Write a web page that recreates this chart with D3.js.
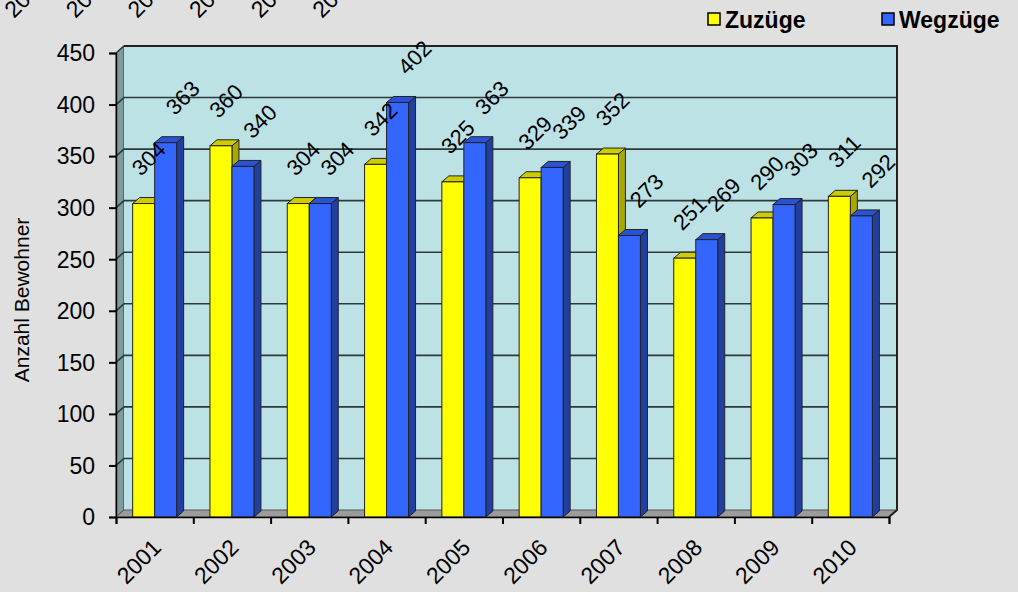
<!DOCTYPE html>
<html>
<head>
<meta charset="utf-8">
<script src="https://cdn.jsdelivr.net/npm/d3@7"></script>
<style>
  html, body { margin: 0; padding: 0; background: #e0e0e0; }
  svg { display: block; font-family: "Liberation Sans", Arial, sans-serif; }
</style>
</head>
<body>
<div id="chart"></div>
<script>
// data
var years = ["2001", "2002", "2003", "2004", "2005", "2006", "2007", "2008", "2009", "2010"]
var zuzuege = [304, 360, 304, 342, 325, 329, 352, 251, 290, 311]
var wegzuege = [363, 340, 304, 402, 363, 339, 273, 269, 303, 292]
var seriesNames = ["Zuzüge", "Wegzüge"]
var yTicks = [0, 50, 100, 150, 200, 250, 300, 350, 400, 450]
// stray, cut-off category labels along the top edge
var topLabels = ["2001", "2002", "2003", "2004", "2005", "2006"]

var width = 1018, height = 592
var depth = {dx: 8, dy: -7}     // wall depth
var bdepth = {dx: 7, dy: -6}    // bar depth

var colors = {
    "Zuzüge": {front: "#ffff00", top: "#cccc00", side: "#a8a800"},
    "Wegzüge": {front: "#3366ff", top: "#2a52d4", side: "#213fa0"}
}

var svg = d3.select("#chart")
    .append("svg")
        .attr("width", width)
        .attr("height", height)

var y = d3.scaleLinear().domain([0, 450]).range([517, 53])
var x = d3.scaleBand().domain(years).range([116, 889])
var xs = d3.scaleBand().domain(seriesNames).range([0, x.bandwidth()]).paddingOuter(0.757)
var xEdge = d3.scaleLinear().domain([0, years.length]).range([116, 889])

var x0 = x.range()[0], x1 = x.range()[1]
var yTop = y(450), yBot = y(0)

// left wall
svg.append("path")
    .attr("d", d3.line()([[x0, yTop], [x0 + depth.dx, yTop + depth.dy], [x0 + depth.dx, yBot + depth.dy], [x0, yBot]]) + "Z")
    .attr("fill", "#7f9b9b")
    .attr("stroke", "#333")
    .attr("stroke-width", 1)

// back wall
svg.append("rect")
    .attr("x", x0 + depth.dx)
    .attr("y", yTop + depth.dy)
    .attr("width", x1 - x0)
    .attr("height", yBot - yTop)
    .attr("fill", "#bde2e6")

// floor
svg.append("path")
    .attr("d", d3.line()([[x0, yBot], [x0 + depth.dx, yBot + depth.dy], [x1 + depth.dx, yBot + depth.dy], [x1, yBot]]) + "Z")
    .attr("fill", "#9c9c9c")
    .attr("stroke", "#555")
    .attr("stroke-width", 1)

// gridlines on back wall and left wall
svg.selectAll(".grid")
    .data(yTicks.filter(function(d){ return d > 0 }))
    .enter()
    .append("path")
        .attr("class", "grid")
        .attr("d", function(d){
            return d3.line()([[x0, y(d)], [x0 + depth.dx, y(d) + depth.dy], [x1 + depth.dx, y(d) + depth.dy]])
        })
        .attr("fill", "none")
        .attr("stroke", "#2e3a3a")
        .attr("stroke-width", 1.6)

// back wall right + top edge
svg.append("path")
    .attr("d", d3.line()([[x0 + depth.dx, yTop + depth.dy], [x1 + depth.dx, yTop + depth.dy], [x1 + depth.dx, yBot + depth.dy], [x1, yBot]]))
    .attr("fill", "none")
    .attr("stroke", "#222")
    .attr("stroke-width", 2)

// bars
var bars = []
years.forEach(function(yr, i){
    bars.push({year: yr, series: "Zuzüge", value: zuzuege[i]})
    bars.push({year: yr, series: "Wegzüge", value: wegzuege[i]})
})

var g = svg.selectAll(".bar")
    .data(bars)
    .enter()
    .append("g")
        .attr("class", "bar")

function bx(d){ return x(d.year) + xs(d.series) }
var bw = xs.bandwidth()

g.append("path")  // side
    .attr("d", function(d){
        var l = bx(d) + bw, t = y(d.value)
        return d3.line()([[l, t], [l + bdepth.dx, t + bdepth.dy], [l + bdepth.dx, yBot + bdepth.dy], [l, yBot]]) + "Z"
    })
    .attr("fill", function(d){ return colors[d.series].side })
    .attr("stroke", "#222").attr("stroke-width", 1)
g.append("path")  // top
    .attr("d", function(d){
        var l = bx(d), t = y(d.value)
        return d3.line()([[l, t], [l + bdepth.dx, t + bdepth.dy], [l + bw + bdepth.dx, t + bdepth.dy], [l + bw, t]]) + "Z"
    })
    .attr("fill", function(d){ return colors[d.series].top })
    .attr("stroke", "#222").attr("stroke-width", 1)
g.append("rect")  // front
    .attr("x", bx)
    .attr("y", function(d){ return y(d.value) })
    .attr("width", bw)
    .attr("height", function(d){ return yBot - y(d.value) })
    .attr("fill", function(d){ return colors[d.series].front })
    .attr("stroke", "#222").attr("stroke-width", 1)

// data labels
svg.selectAll(".dlabel")
    .data(bars)
    .enter()
    .append("text")
        .attr("class", "dlabel")
        .attr("transform", function(d){
            var cx = bx(d) + bw / 2 + (d.series == "Wegzüge" ? 17 : 5)
            var cy = y(d.value) - 45
            return "translate(" + cx + "," + cy + ") rotate(-45)"
        })
        .attr("text-anchor", "middle")
        .attr("dy", "0.35em")
        .attr("font-size", "22px")
        .attr("fill", "#000")
        .text(function(d){ return d.value })

// x axis (front edge with ticks at category boundaries)
svg.append("g")
    .attr("transform", "translate(0," + yBot + ")")
    .call(d3.axisBottom(xEdge).ticks(years.length).tickSize(7).tickFormat(""))
    .call(function(a){
        a.select(".domain").attr("stroke", "#000").attr("stroke-width", 1.6)
        a.selectAll(".tick line").attr("stroke", "#000").attr("stroke-width", 2)
    })

svg.selectAll(".xlabel")
    .data(years)
    .enter()
    .append("text")
        .attr("class", "xlabel")
        .attr("transform", function(d){
            return "translate(" + (x(d) + x.bandwidth() / 2 + 8) + ",549) rotate(-45)"
        })
        .attr("text-anchor", "end")
        .attr("font-size", "23px")
        .text(function(d){ return d })

// y axis
svg.append("g")
    .attr("transform", "translate(" + x0 + ",0)")
    .call(d3.axisLeft(y).tickValues(yTicks).tickSize(7).tickFormat(""))
    .call(function(a){
        a.select(".domain").attr("stroke", "#000").attr("stroke-width", 1.4)
        a.selectAll(".tick line").attr("stroke", "#000").attr("stroke-width", 2)
    })

svg.selectAll(".ylabel")
    .data(yTicks)
    .enter()
    .append("text")
        .attr("class", "ylabel")
        .attr("transform", function(d){ return "translate(95," + y(d) + ")" })
        .attr("text-anchor", "end")
        .attr("dy", "0.36em")
        .attr("font-size", "23px")
        .text(function(d){ return d })

svg.append("text")
    .attr("transform", "translate(29,300) rotate(-90)")
    .attr("text-anchor", "middle")
    .attr("font-size", "21px")
    .text("Anzahl Bewohner")

// cut-off labels at the top edge
var xTop = d3.scalePoint().domain(topLabels).range([14, 322])
svg.selectAll(".toplabel")
    .data(topLabels)
    .enter()
    .append("text")
        .attr("class", "toplabel")
        .attr("transform", function(d){ return "translate(" + xTop(d) + ",19) rotate(-45)" })
        .attr("font-size", "23px")
        .text(function(d){ return d })

// legend
var legendX = d3.scaleOrdinal().domain(seriesNames).range([708, 882])
var lg = svg.selectAll(".legend")
    .data(seriesNames)
    .enter()
    .append("g")
        .attr("class", "legend")
        .attr("transform", function(d){ return "translate(" + legendX(d) + ",0)" })
lg.append("rect")
    .attr("x", 0).attr("y", 13)
    .attr("width", 12).attr("height", 12)
    .attr("fill", function(d){ return colors[d].front })
    .attr("stroke", "#000").attr("stroke-width", 1.5)
lg.append("text")
    .attr("x", 17).attr("y", 28)
    .attr("font-size", "23px")
    .attr("font-weight", "bold")
    .text(function(d){ return d })
</script>
</body>
</html>
